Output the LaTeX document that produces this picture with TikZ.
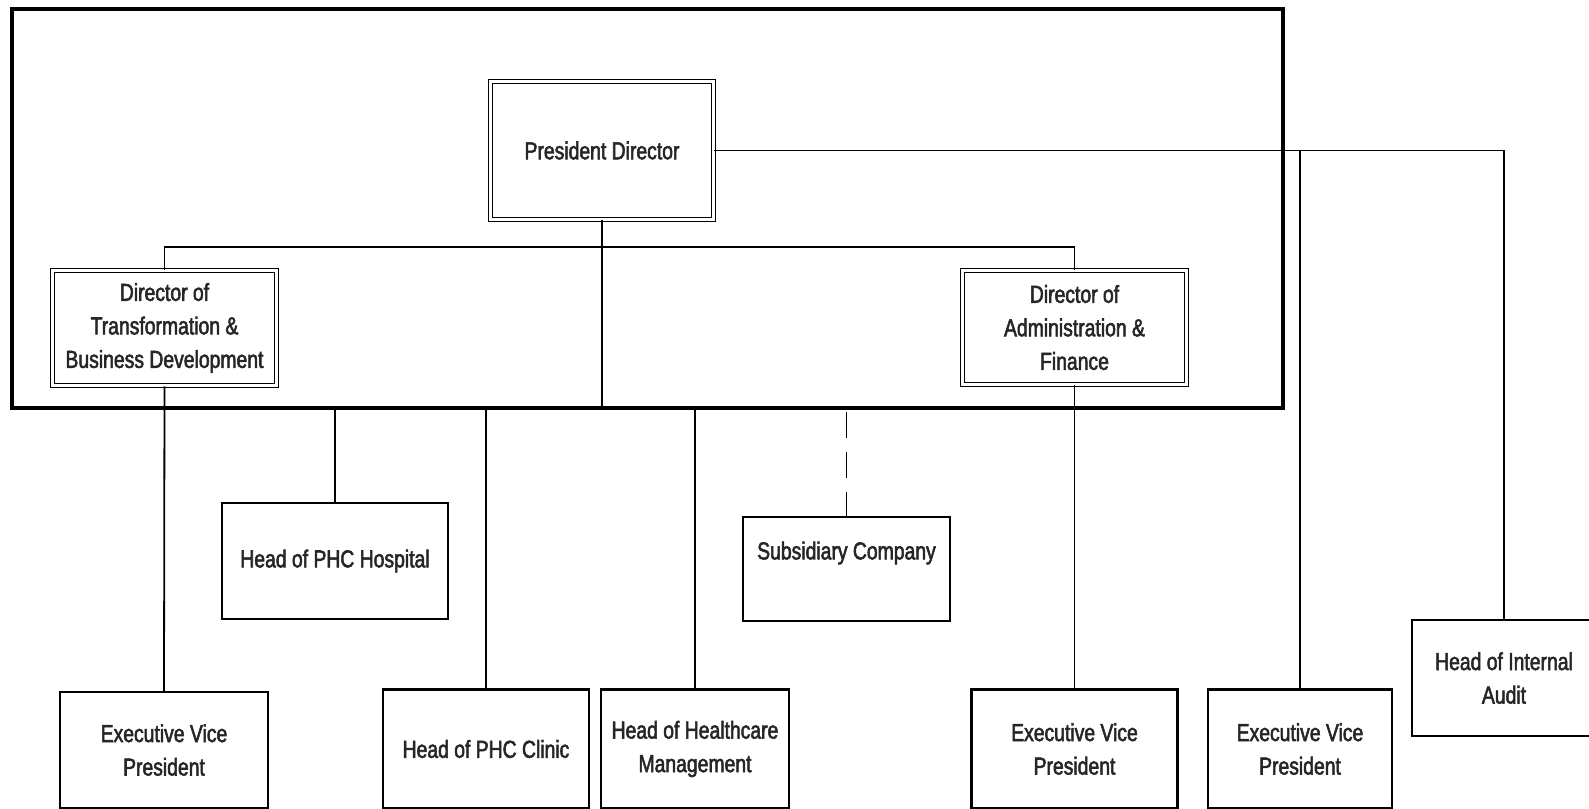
\documentclass[tikz,border=0pt]{standalone}
\usepackage{fontspec}
\setmainfont{Liberation Sans}[FakeStretch=0.79, FakeBold=2.2]
\usepackage{tikz}
\usetikzlibrary{calc}

\begin{document}
\begin{tikzpicture}[x=1pt, y=-1pt]
	\tikzstyle{dirbox}=[draw=black, double, double distance=2.4pt, line width=1.5pt, align=center, inner sep=0pt, text=black!85]
	\tikzstyle{headbox}=[draw=black, line width=2.2pt, align=center, inner sep=0pt, text=black!85]
	\tikzstyle{conn}=[black, line width=1.8pt]
	\tikzstyle{frame}=[draw=black, line width=4pt, inner sep=0pt]
	
	\useasboundingbox (0,0) rectangle (1589,808);
	\fontsize{24.5}{33.5}\selectfont
	
	%% board of directors
	\node [frame, minimum width=1271pt, minimum height=399pt] (board) at (647.5,208.5) {};
	\node [dirbox, minimum width=223pt, minimum height=138pt] (pres) at (602,150.5) {President Director};
	\node [dirbox, minimum width=224pt, minimum height=115pt] (dirt) at (164.5,328) {Director of\\Transformation \&\\Business Development};
	\node [dirbox, minimum width=224pt, minimum height=114pt] (dira) at (1074.5,327.5) {Director of\\Administration \&\\Finance};
	
	%% units below the board
	\node [headbox, minimum width=226pt, minimum height=116pt] (hosp) at (335,561) {Head of PHC Hospital};
	\node [headbox, minimum width=207pt, minimum height=104pt, text depth=37pt] (subs) at (846.5,569) {Subsidiary Company};
	\node [headbox, minimum width=208pt, minimum height=116pt] (evpa) at (164,750) {Executive Vice\\President};
	\node [headbox, minimum width=206pt, minimum height=119pt] (clinic) at (486,749) {Head of PHC Clinic};
	\node [headbox, minimum width=188pt, minimum height=119pt] (hcm) at (695,749) {Head of Healthcare\\Management};
	\node [headbox, minimum width=206pt, minimum height=119pt] (evpb) at (1074.5,749) {Executive Vice\\President};
	\node [headbox, minimum width=184pt, minimum height=119pt] (evpc) at (1300,749) {Executive Vice\\President};
	\node [headbox, minimum width=184pt, minimum height=116pt] (audit) at (1504,678) {Head of Internal\\Audit};
	
	%% connectors
	\draw [conn] (dirt.north) -- ++(0,-23) -| (dira.north);
	\draw [conn] (pres.south) -- (pres.south |- board.south);
	\draw [conn] (pres.east) -| (audit.north);
	\draw [conn] (pres.east -| evpc.north) -- (evpc.north);
	\draw [conn] (dirt.south) -- (evpa.north);
	\draw [conn] (dira.south) -- (evpb.north);
	\foreach \n in {hosp, clinic, hcm}
		\draw [conn] (board.south -| \n.north) -- (\n.north);
	\draw [conn, dash pattern=on 26pt off 14pt] (board.south -| subs.north) ++(0,2) -- (subs.north);
\end{tikzpicture}
\end{document}
